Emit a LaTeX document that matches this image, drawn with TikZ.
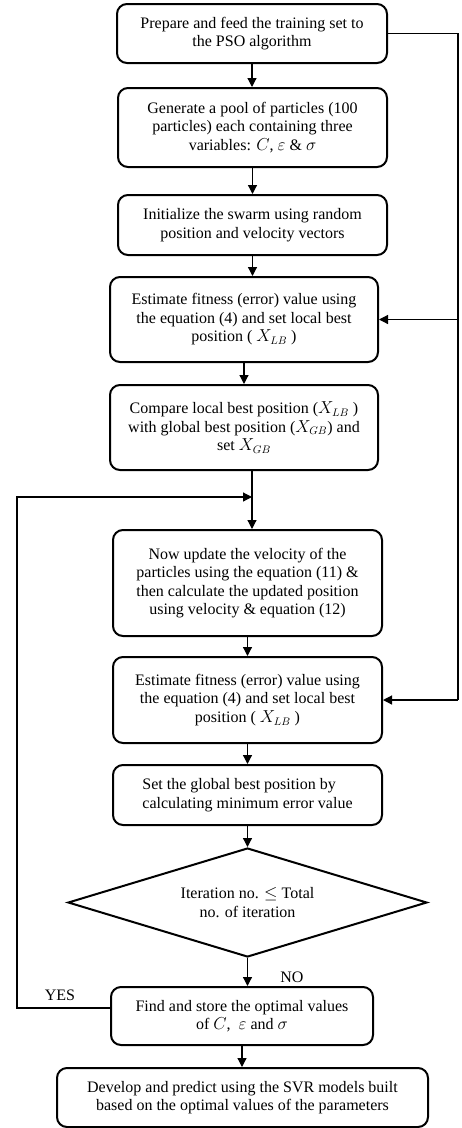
\documentclass[tikz,border=0pt]{standalone}
\usepackage{amsmath}
\usepackage{amssymb}
\usepackage{fontspec}
\setmainfont{Liberation Serif}
\usetikzlibrary{arrows.meta,shapes.geometric}

\begin{document}
\begin{tikzpicture}[x=1pt, y=-1pt,
    every node/.style={font=\fontsize{16}{18.5}\selectfont},
    stepbox/.style={draw, line width=2pt, rounded corners=10pt, align=center, inner sep=2pt},
    decide/.style={draw, line width=2pt, diamond, aspect=3.3, inner sep=0pt, align=center,
      minimum width=359pt, minimum height=109pt},
    arr/.style={line width=1.2pt, -{Triangle[length=9pt,width=9pt]}},
    link/.style={line width=1.2pt}]
    \useasboundingbox (0,0) rectangle (461,1128);
    \node[stepbox, minimum width=270pt, minimum height=59pt] (b1) at (252,33.5)
      {Prepare and feed the training set to\\the PSO algorithm};
    \node[stepbox, minimum width=269pt, minimum height=79pt] (b2) at (252.5,127.5)
      {Generate a pool of particles (100\\particles) each containing three\\variables: $C$,\ $\varepsilon$ \& $\sigma$};
    \node[stepbox, minimum width=269pt, minimum height=60pt] (b3) at (252.5,225)
      {Initialize the swarm using random\\position and velocity vectors};
    \node[stepbox, minimum width=268pt, minimum height=85pt] (b4) at (244,319.5)
      {Estimate fitness (error) value using\\the equation (4) and set local best\\position ( $X_{LB}$ )};
    \node[stepbox, minimum width=268pt, minimum height=85pt] (b5) at (244,427.5)
      {Compare local best position ($X_{LB}$ )\\with global best position ($X_{GB}$) and\\set $X_{GB}$};
    \node[stepbox, minimum width=269pt, minimum height=106pt] (b6) at (247.5,583)
      {Now update the velocity of the\\particles using the equation (11) \&\\then calculate the updated position\\using velocity \& equation (12)};
    \node[stepbox, minimum width=269pt, minimum height=86pt] (b7) at (247.5,700)
      {Estimate fitness (error) value using\\the equation (4) and set local best\\position ( $X_{LB}$ )};
    \node[stepbox, align=left, minimum width=269pt, minimum height=60pt] (b8) at (247.5,795)
      {Set the global best position by\\calculating minimum error value};
    \node[decide] (check) at (247.5,902.5)
      {Iteration no. $\leq$ Total\\no. of iteration};
    \node[stepbox, minimum width=262pt, minimum height=58pt] (b9) at (242,1016)
      {Find and store the optimal values\\of $C$,\ \ $\varepsilon$ and $\sigma$};
    \node[stepbox, minimum width=371pt, minimum height=59pt] (b10) at (242.5,1097.5)
      {Develop and predict using the SVR models built\\based on the optimal values of the parameters};

    % main column
    \foreach \a/\b in {b1/b2, b2/b3, b3/b4, b4/b5, b6/b7, b7/b8, b8/check, check/b9, b9/b10}{
      \draw[arr] (\a.south) -- (\a.south |- \b.north);
    }
    \coordinate (join) at (252,497);
    \draw[arr] (b5.south -| join) -- (join |- b6.north);

    % right feedback line
    \coordinate (rtop) at (458,33.5);
    \coordinate (rbot) at (458,700);
    \draw[link] (b1.east) -- (rtop) -- (rbot);
    \draw[arr] (rbot) -- (b7.east);
    \draw[arr] (rtop |- b4.east) -- (b4.east);

    % YES loop
    \coordinate (yesturn) at (17,497);
    \draw[arr] ([yshift=8pt]b9.west) -| (yesturn) -- (join);
    \node (yes) at (60,995) {YES};
    \node (no) at (292,977) {NO};
  \end{tikzpicture}
\end{document}
